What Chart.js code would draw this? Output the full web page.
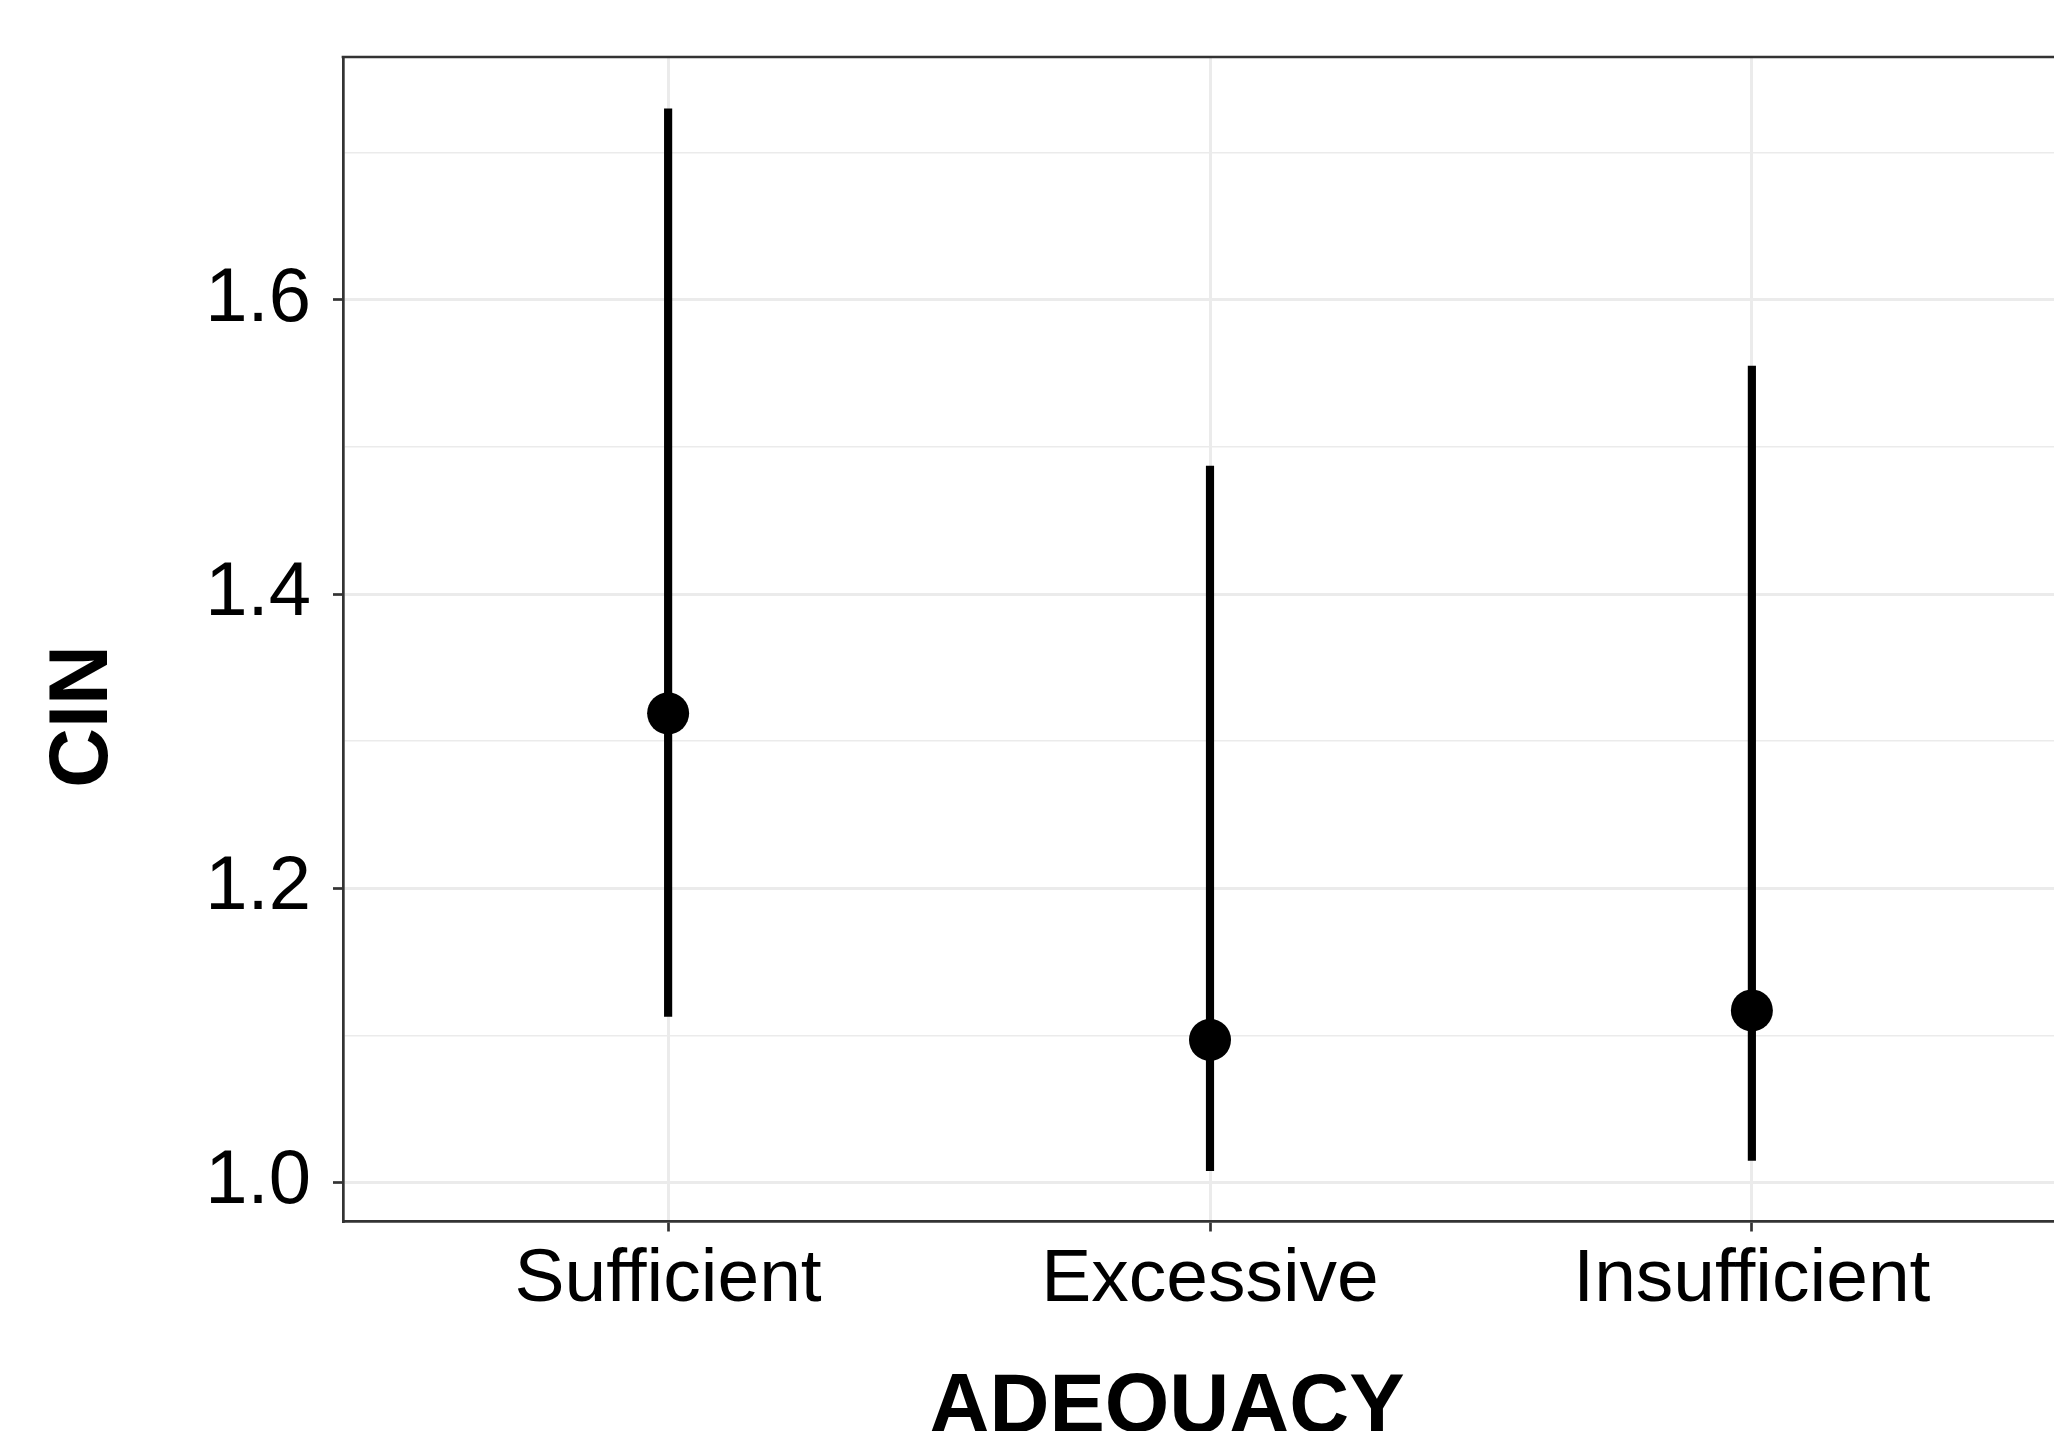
<!DOCTYPE html>
<html>
<head>
<meta charset="utf-8">
<title>CIN by ADEQUACY</title>
<script src="https://cdn.jsdelivr.net/npm/chart.js@4.4.1/dist/chart.umd.min.js"></script>
<style>
	html, body { margin: 0; padding: 0; background: #ffffff; overflow: hidden; }
	#wrap { position: absolute; left: 0; top: 0; width: 2090px; height: 1431px; }
</style>
</head>
<body>
<div id="wrap"><canvas id="chart" width="2090" height="1431"></canvas></div>
<script>
const categories = ["Sufficient", "Excessive", "Insufficient"];
const catPositions = [1, 2, 3];
const cinMean = [1.319, 1.097, 1.117];
const cinLower = [1.113, 1.008, 1.015];
const cinUpper = [1.730, 1.487, 1.555];
const yMajorTicks = [1.0, 1.2, 1.4, 1.6];
const yMinorTicks = [1.1, 1.3, 1.5, 1.7];
const yTickLabels = ["1.0", "1.2", "1.4", "1.6"];

const FONT = '"Liberation Sans", Arial, Helvetica, sans-serif';
const FRAME = "#333333";
const GRID = "#ebebeb";

const isMajor = (v) => yMajorTicks.some((m) => Math.abs(m - v) < 1e-9);

// ggplot-like panel frame on top, plus the two axis titles
const frameAndTitles = {
	id: "frameAndTitles",
	afterDraw(chart) {
		const { ctx, chartArea: a } = chart;
		ctx.save();
		ctx.strokeStyle = FRAME;
		ctx.lineWidth = 2.7;
		ctx.beginPath();
		ctx.moveTo(a.left - 1.35, a.top);
		ctx.lineTo(a.right, a.top);
		ctx.stroke();

		ctx.fillStyle = "#000000";
		ctx.font = `bold 83px ${FONT}`;
		ctx.textAlign = "center";
		ctx.textBaseline = "alphabetic";
		ctx.fillText("ADEQUACY", 1167, 1432);
		ctx.translate(107, 716.5);
		ctx.rotate(-Math.PI / 2);
		ctx.fillText("CIN", 0, 0);
		ctx.restore();
	},
};

const ctx = document.getElementById("chart").getContext("2d");

new Chart(ctx, {
	type: "scatter",
	data: {
		datasets: [
			{
				type: "scatter",
				label: "mean",
				order: 0,
				data: catPositions.map((x, i) => ({ x, y: cinMean[i] })),
				backgroundColor: "#000000",
				borderWidth: 0,
				pointRadius: 21,
				pointHoverRadius: 21,
			},
			{
				type: "bar",
				label: "interval",
				order: 1,
				data: catPositions.map((x, i) => ({ x, y: [cinLower[i], cinUpper[i]] })),
				backgroundColor: "#000000",
				borderWidth: 0,
				barThickness: 7.5,
			},
		],
	},
	options: {
		responsive: false,
		animation: false,
		devicePixelRatio: 1,
		layout: { autoPadding: false, padding: { top: 57, right: 13, left: 0, bottom: 0 } },
		plugins: {
			legend: { display: false },
			tooltip: { enabled: false },
		},
		scales: {
			x: {
				type: "linear",
				min: 0.4,
				max: 3.6,
				offset: false,
				afterBuildTicks: (scale) => {
					scale.ticks = catPositions.map((v) => ({ value: v }));
				},
				afterFit: (scale) => {
					scale.height = 209.5;
					scale.paddingLeft = 0;
					scale.paddingRight = 0;
				},
				ticks: {
					autoSkip: false,
					maxRotation: 0,
					padding: 4,
					color: "#000000",
					font: { family: FONT, size: 75 },
					callback: (v) => categories[catPositions.indexOf(v)] ?? "",
				},
				grid: {
					offset: false,
					color: GRID,
					lineWidth: 3,
					tickLength: 10,
					tickWidth: 2.7,
					tickColor: FRAME,
				},
				border: { display: true, color: FRAME, width: 2.7 },
			},
			y: {
				type: "linear",
				min: 0.9735,
				max: 1.7652,
				afterBuildTicks: (scale) => {
					scale.ticks = [...yMajorTicks, ...yMinorTicks]
						.sort((a, b) => a - b)
						.map((v) => ({ value: v }));
				},
				afterFit: (scale) => {
					scale.width = 343;
					scale.paddingTop = 0;
					scale.paddingBottom = 0;
				},
				ticks: {
					autoSkip: false,
					padding: 22,
					color: "#000000",
					font: { family: FONT, size: 76 },
					callback: (v) => {
						const idx = yMajorTicks.findIndex((m) => Math.abs(m - v) < 1e-9);
						return idx >= 0 ? yTickLabels[idx] : "";
					},
				},
				grid: {
					color: GRID,
					lineWidth: (c) => (isMajor(c.tick.value) ? 3 : 1.6),
					tickLength: 10,
					tickWidth: 2.7,
					tickColor: (c) => (isMajor(c.tick.value) ? FRAME : "rgba(0,0,0,0)"),
				},
				border: { display: true, color: FRAME, width: 2.7 },
			},
		},
	},
	plugins: [frameAndTitles],
});
</script>
</body>
</html>
